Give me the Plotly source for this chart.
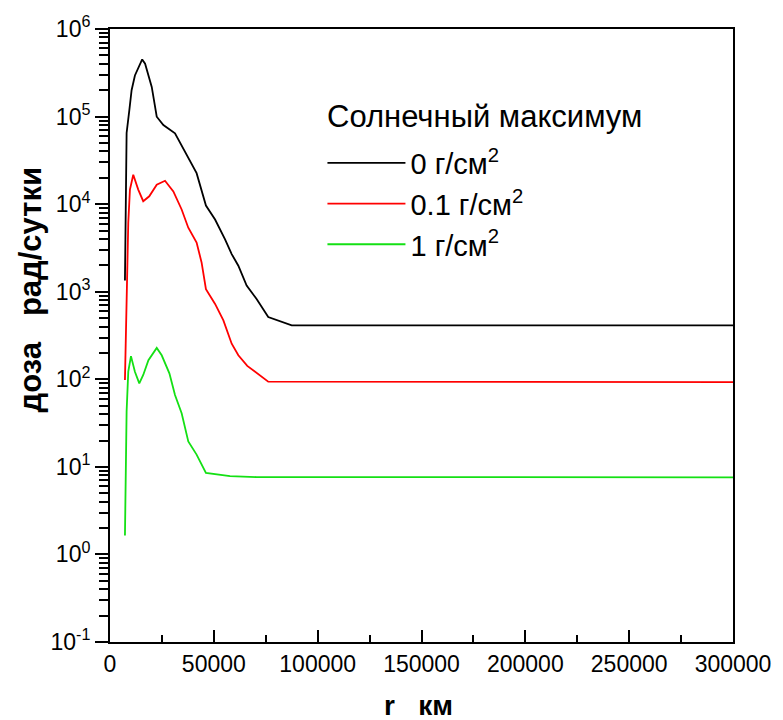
import plotly.graph_objects as go

# data (r in km, dose in rad/day)
r_black = [7200, 8000, 9300, 10400, 12000, 15500, 16900, 20100, 22500, 25700, 31300, 37700, 41700,
           46200, 50600, 55400, 58600, 61800, 65800, 70600, 76200, 87500, 300000]
d_black = [1340, 65000, 118000, 200000, 295000, 449000, 401000, 218000, 99600, 80000, 64400, 33500, 22600,
           9640, 6680, 3960, 2690, 1980, 1174, 826, 513, 413, 413]

r_red = [7200, 8800, 9600, 11200, 13600, 16000, 18900, 22500, 26500, 30500, 34500, 37700, 41700,
         44100, 46200, 50600, 54600, 58600, 61800, 66100, 76200, 300000]
d_red = [98, 6140, 14650, 21700, 14650, 10800, 12300, 16700, 18500, 14000, 8690, 5380, 3640,
         2160, 1070, 725, 470, 255, 188, 142, 94, 93]

r_green = [7200, 8000, 8800, 10100, 12000, 14100, 16000, 18500, 22500, 24900, 28600, 31300, 34500,
           37700, 41700, 46200, 57800, 70600, 300000]
d_green = [1.64, 42.8, 122, 184, 122, 89.8, 112, 165, 228, 188, 117, 66, 41,
           19.5, 13.8, 8.55, 7.85, 7.64, 7.6]

series_names = ["0 г/см<sup>2</sup>", "0.1 г/см<sup>2</sup>", "1 г/см<sup>2</sup>"]
series_colors = ["#000000", "#FF0000", "#14E014"]
legend_title = "Солнечный максимум"
x_title = "r\u00a0\u00a0\u00a0км"
y_title = "доза\u00a0\u00a0\u00a0рад/сутки"
x_tickvals = [0, 50000, 100000, 150000, 200000, 250000, 300000]
x_ticktext = ["0", "50000", "100000", "150000", "200000", "250000", "300000"]
x_minor_vals = [25000, 75000, 125000, 175000, 225000, 275000]
y_tickvals = [1e-1, 1e0, 1e1, 1e2, 1e3, 1e4, 1e5, 1e6]
y_ticktext = ["10<sup>-1</sup>", "10<sup>0</sup>", "10<sup>1</sup>", "10<sup>2</sup>",
              "10<sup>3</sup>", "10<sup>4</sup>", "10<sup>5</sup>", "10<sup>6</sup>"]

fig = go.Figure()
for xs, ys, name, col in zip([r_black, r_red, r_green], [d_black, d_red, d_green], series_names, series_colors):
    fig.add_trace(go.Scatter(x=xs, y=ys, mode="lines", name=name,
                             line=dict(color=col, width=1.8)))

font_family = "Arial, Liberation Sans, sans-serif"
fig.update_layout(
    width=783, height=720,
    margin=dict(l=110, r=50, t=25, b=78),
    paper_bgcolor="white", plot_bgcolor="white",
    font=dict(family=font_family, color="black"),
    showlegend=True,
    legend=dict(
        x=0.341, y=0.823, xanchor="left", yanchor="top",
        font=dict(size=29), bgcolor="rgba(0,0,0,0)", tracegroupgap=0,
        itemwidth=78,
    ),
    xaxis=dict(
        range=[0, 300000], showgrid=False, zeroline=False,
        showline=True, linecolor="black", linewidth=2, mirror=True,
        ticks="inside", ticklen=12, tickwidth=2, tickcolor="black",
        tickvals=x_tickvals, ticktext=x_ticktext,
        tickfont=dict(size=23),
        minor=dict(tickvals=x_minor_vals,
                   ticks="inside", ticklen=7, tickwidth=2, tickcolor="black"),
    ),
    yaxis=dict(
        type="log", range=[-1, 6], showgrid=False, zeroline=False,
        showline=True, linecolor="black", linewidth=2, mirror=True,
        ticks="outside", ticklen=13, tickwidth=2, tickcolor="black",
        tickvals=y_tickvals, ticktext=y_ticktext, tickfont=dict(size=23),
        minor=dict(dtick="D1", ticks="outside", ticklen=9, tickwidth=1.5, tickcolor="black"),
    ),
    annotations=[
        dict(text=legend_title, x=0.345, y=(642 - 113) / 617, xref="paper", yref="paper",
             xanchor="left", yanchor="middle", showarrow=False, font=dict(size=31)),
        dict(text="<b>" + x_title + "</b>", x=0.495, y=-0.104, xref="paper", yref="paper",
             xanchor="center", yanchor="middle", showarrow=False, font=dict(size=28)),
        dict(text="<b>" + y_title + "</b>", x=-0.127, y=0.575, xref="paper", yref="paper",
             xanchor="center", yanchor="middle", textangle=-90, showarrow=False, font=dict(size=31)),
    ],
)

fig.write_html("out.html")
